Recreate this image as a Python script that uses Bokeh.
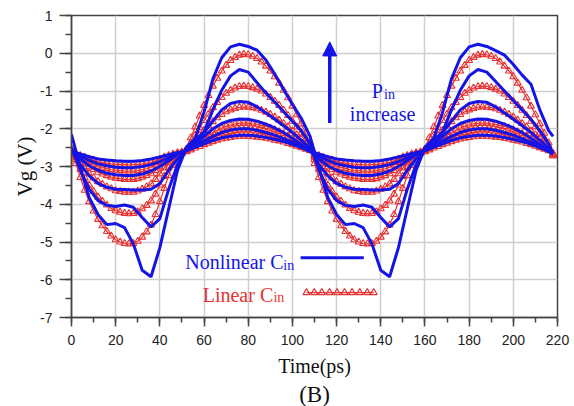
from bokeh.plotting import figure
from bokeh.models import Range1d, SingleIntervalTicker, Label, Arrow, NormalHead, Title, CustomJSTickFormatter
from bokeh.embed import file_html
from bokeh.resources import INLINE

# time axes (ps)
t = list(range(0, 217, 4)) + [218]     # nonlinear (blue) samples
t_r = list(range(0, 217, 2)) + [218]   # linear (red, marked) samples

# Nonlinear C_in (blue), largest Pin first
B1 = [-2.15, -3.03, -3.82, -4.27, -4.54, -4.51, -4.62, -5.05, -5.75, -5.92, -5.15, -4.12, -3.10, -2.50,
      -2.25, -1.56, -0.68, -0.12, 0.17, 0.24, 0.18, 0.08, -0.18, -0.55, -0.96, -1.35, -1.72, -2.20,
      -3.03, -3.82, -4.27, -4.54, -4.51, -4.62, -5.05, -5.75, -5.92, -5.15, -4.12, -3.10, -2.50,
      -2.25, -1.56, -0.68, -0.12, 0.17, 0.24, 0.18, 0.07, -0.05, -0.30, -0.58, -0.82, -1.50, -2.05,
      -2.20]
B2 = [-2.50, -3.10, -3.60, -3.90, -4.03, -4.06, -4.02, -4.08, -4.35, -4.60, -4.38, -3.60, -2.95, -2.50,
      -2.30, -2.08, -1.50, -0.98, -0.60, -0.43, -0.50, -0.78, -1.05, -1.30, -1.55, -1.80, -2.05, -2.40,
      -3.10, -3.60, -3.90, -4.03, -4.06, -4.02, -4.08, -4.35, -4.60, -4.38, -3.60, -2.95, -2.50,
      -2.30, -2.08, -1.50, -0.98, -0.60, -0.43, -0.50, -0.75, -1.00, -1.25, -1.50, -1.75, -2.05, -2.40,
      -2.66]
B3 = [-2.55, -2.95, -3.25, -3.45, -3.55, -3.60, -3.61, -3.62, -3.62, -3.60, -3.45, -3.10, -2.80, -2.56,
      -2.35, -2.10, -1.80, -1.50, -1.33, -1.28, -1.30, -1.42, -1.58, -1.75, -1.92, -2.10, -2.30, -2.52,
      -2.95, -3.25, -3.45, -3.55, -3.60, -3.61, -3.62, -3.62, -3.60, -3.45, -3.10, -2.80, -2.56,
      -2.35, -2.10, -1.80, -1.50, -1.33, -1.28, -1.30, -1.42, -1.58, -1.75, -1.92, -2.10, -2.30, -2.52,
      -2.66]
B4 = [-2.58, -2.80, -2.98, -3.10, -3.18, -3.22, -3.24, -3.24, -3.20, -3.12, -3.00, -2.85, -2.68, -2.57,
      -2.40, -2.20, -2.00, -1.86, -1.78, -1.74, -1.75, -1.80, -1.88, -1.98, -2.10, -2.25, -2.42, -2.60,
      -2.80, -2.98, -3.10, -3.18, -3.22, -3.24, -3.24, -3.20, -3.12, -3.00, -2.85, -2.68, -2.57,
      -2.40, -2.20, -2.00, -1.86, -1.78, -1.74, -1.75, -1.80, -1.88, -1.98, -2.10, -2.25, -2.42, -2.60,
      -2.67]
B5 = [-2.60, -2.72, -2.84, -2.93, -2.98, -3.02, -3.03, -3.03, -3.00, -2.95, -2.87, -2.77, -2.66, -2.58,
      -2.46, -2.32, -2.20, -2.10, -2.03, -2.00, -2.00, -2.04, -2.10, -2.17, -2.26, -2.36, -2.48, -2.60,
      -2.72, -2.84, -2.93, -2.98, -3.02, -3.03, -3.03, -3.00, -2.95, -2.87, -2.77, -2.66, -2.58,
      -2.46, -2.32, -2.20, -2.10, -2.03, -2.00, -2.00, -2.04, -2.10, -2.17, -2.26, -2.36, -2.48, -2.60,
      -2.67]
B6 = [-2.60, -2.67, -2.74, -2.80, -2.83, -2.85, -2.86, -2.86, -2.84, -2.80, -2.75, -2.69, -2.63, -2.58,
      -2.49, -2.40, -2.31, -2.24, -2.20, -2.17, -2.17, -2.19, -2.23, -2.28, -2.34, -2.41, -2.50, -2.60,
      -2.67, -2.74, -2.80, -2.83, -2.85, -2.86, -2.86, -2.84, -2.80, -2.75, -2.69, -2.63, -2.58,
      -2.49, -2.40, -2.31, -2.24, -2.20, -2.17, -2.17, -2.19, -2.23, -2.28, -2.34, -2.41, -2.50, -2.60,
      -2.67]

# Linear C_in (red), largest Pin first, sampled on t_r
R1 = [-2.54, -2.92, -3.29, -3.63, -3.93, -4.18, -4.40, -4.57, -4.72, -4.84, -4.94, -5.00, -5.04, -5.05,
      -5.04, -4.98, -4.87, -4.73, -4.55, -4.27, -3.93, -3.58, -3.24, -2.97, -2.74, -2.65, -2.54, -2.24,
      -1.95, -1.66, -1.38, -1.12, -0.87, -0.66, -0.47, -0.32, -0.19, -0.11, -0.05, -0.03, -0.04, -0.08,
      -0.14, -0.23, -0.34, -0.47, -0.62, -0.79, -0.98, -1.18, -1.40, -1.63, -1.87, -2.12, -2.37,
      -2.92, -3.29, -3.63, -3.93, -4.18, -4.40, -4.57, -4.72, -4.84, -4.94, -5.00, -5.04, -5.05,
      -5.04, -4.98, -4.87, -4.73, -4.55, -4.27, -3.93, -3.58, -3.24, -2.97, -2.74, -2.65, -2.54, -2.24,
      -1.95, -1.66, -1.38, -1.12, -0.87, -0.66, -0.47, -0.32, -0.19, -0.11, -0.05, -0.03, -0.04, -0.08,
      -0.14, -0.23, -0.34, -0.47, -0.62, -0.79, -0.98, -1.18, -1.40, -1.63, -1.87, -2.12, -2.37,
      -2.72]
R2 = [-2.57, -2.82, -3.07, -3.30, -3.49, -3.66, -3.81, -3.92, -4.02, -4.11, -4.17, -4.21, -4.24, -4.25,
      -4.24, -4.20, -4.12, -4.03, -3.91, -3.73, -3.49, -3.26, -3.03, -2.85, -2.70, -2.64, -2.57, -2.37,
      -2.17, -1.97, -1.78, -1.61, -1.44, -1.30, -1.17, -1.06, -0.98, -0.92, -0.88, -0.87, -0.88, -0.91,
      -0.95, -1.00, -1.08, -1.17, -1.27, -1.38, -1.51, -1.65, -1.80, -1.95, -2.11, -2.28, -2.45,
      -2.82, -3.07, -3.30, -3.49, -3.66, -3.81, -3.92, -4.02, -4.11, -4.17, -4.21, -4.24, -4.25,
      -4.24, -4.20, -4.12, -4.03, -3.91, -3.73, -3.49, -3.26, -3.03, -2.85, -2.70, -2.64, -2.57, -2.37,
      -2.17, -1.97, -1.78, -1.61, -1.44, -1.30, -1.17, -1.06, -0.98, -0.92, -0.88, -0.87, -0.88, -0.91,
      -0.95, -1.00, -1.08, -1.17, -1.27, -1.38, -1.51, -1.65, -1.80, -1.95, -2.11, -2.28, -2.45,
      -2.70]
R3 = [-2.58, -2.75, -2.91, -3.06, -3.19, -3.30, -3.40, -3.47, -3.54, -3.59, -3.64, -3.66, -3.68, -3.68,
      -3.68, -3.65, -3.60, -3.54, -3.46, -3.34, -3.19, -3.04, -2.89, -2.77, -2.67, -2.63, -2.58, -2.45,
      -2.31, -2.18, -2.04, -1.92, -1.81, -1.71, -1.62, -1.55, -1.50, -1.46, -1.43, -1.42, -1.43, -1.44,
      -1.47, -1.51, -1.56, -1.62, -1.69, -1.77, -1.86, -1.95, -2.06, -2.16, -2.27, -2.39, -2.50,
      -2.75, -2.91, -3.06, -3.19, -3.30, -3.40, -3.47, -3.54, -3.59, -3.64, -3.66, -3.68, -3.68,
      -3.68, -3.65, -3.60, -3.54, -3.46, -3.34, -3.19, -3.04, -2.89, -2.77, -2.67, -2.63, -2.58, -2.45,
      -2.31, -2.18, -2.04, -1.92, -1.81, -1.71, -1.62, -1.55, -1.50, -1.46, -1.43, -1.42, -1.43, -1.44,
      -1.47, -1.51, -1.56, -1.62, -1.69, -1.77, -1.86, -1.95, -2.06, -2.16, -2.27, -2.39, -2.50,
      -2.68]
R4 = [-2.60, -2.71, -2.82, -2.92, -3.01, -3.08, -3.15, -3.20, -3.24, -3.28, -3.31, -3.32, -3.34, -3.34,
      -3.34, -3.32, -3.28, -3.24, -3.19, -3.11, -3.01, -2.91, -2.80, -2.72, -2.66, -2.63, -2.60, -2.51,
      -2.42, -2.34, -2.25, -2.17, -2.10, -2.04, -1.98, -1.93, -1.90, -1.87, -1.86, -1.85, -1.85, -1.87,
      -1.88, -1.91, -1.94, -1.98, -2.03, -2.08, -2.13, -2.19, -2.26, -2.33, -2.40, -2.47, -2.55,
      -2.71, -2.82, -2.92, -3.01, -3.08, -3.15, -3.20, -3.24, -3.28, -3.31, -3.32, -3.34, -3.34,
      -3.34, -3.32, -3.28, -3.24, -3.19, -3.11, -3.01, -2.91, -2.80, -2.72, -2.66, -2.63, -2.60, -2.51,
      -2.42, -2.34, -2.25, -2.17, -2.10, -2.04, -1.98, -1.93, -1.90, -1.87, -1.86, -1.85, -1.85, -1.87,
      -1.88, -1.91, -1.94, -1.98, -2.03, -2.08, -2.13, -2.19, -2.26, -2.33, -2.40, -2.47, -2.55,
      -2.67]
R5 = [-2.60, -2.68, -2.76, -2.83, -2.89, -2.94, -2.99, -3.02, -3.05, -3.08, -3.10, -3.11, -3.12, -3.12,
      -3.12, -3.11, -3.08, -3.06, -3.02, -2.96, -2.89, -2.82, -2.75, -2.69, -2.65, -2.63, -2.60, -2.53,
      -2.47, -2.40, -2.34, -2.28, -2.22, -2.18, -2.13, -2.10, -2.07, -2.05, -2.03, -2.03, -2.03, -2.04,
      -2.06, -2.08, -2.10, -2.13, -2.16, -2.20, -2.25, -2.29, -2.34, -2.39, -2.45, -2.50, -2.56,
      -2.68, -2.76, -2.83, -2.89, -2.94, -2.99, -3.02, -3.05, -3.08, -3.10, -3.11, -3.12, -3.12,
      -3.12, -3.11, -3.08, -3.06, -3.02, -2.96, -2.89, -2.82, -2.75, -2.69, -2.65, -2.63, -2.60, -2.53,
      -2.47, -2.40, -2.34, -2.28, -2.22, -2.18, -2.13, -2.10, -2.07, -2.05, -2.03, -2.03, -2.03, -2.04,
      -2.06, -2.08, -2.10, -2.13, -2.16, -2.20, -2.25, -2.29, -2.34, -2.39, -2.45, -2.50, -2.56,
      -2.66]
R6 = [-2.61, -2.66, -2.71, -2.76, -2.80, -2.83, -2.87, -2.89, -2.91, -2.93, -2.94, -2.95, -2.95, -2.96,
      -2.95, -2.95, -2.93, -2.91, -2.89, -2.85, -2.80, -2.75, -2.71, -2.67, -2.64, -2.62, -2.61, -2.56,
      -2.51, -2.47, -2.42, -2.38, -2.34, -2.30, -2.27, -2.25, -2.23, -2.21, -2.20, -2.20, -2.20, -2.21,
      -2.22, -2.23, -2.25, -2.27, -2.30, -2.32, -2.35, -2.39, -2.42, -2.46, -2.50, -2.54, -2.58,
      -2.66, -2.71, -2.76, -2.80, -2.83, -2.87, -2.89, -2.91, -2.93, -2.94, -2.95, -2.95, -2.96,
      -2.95, -2.95, -2.93, -2.91, -2.89, -2.85, -2.80, -2.75, -2.71, -2.67, -2.64, -2.62, -2.61, -2.56,
      -2.51, -2.47, -2.42, -2.38, -2.34, -2.30, -2.27, -2.25, -2.23, -2.21, -2.20, -2.20, -2.20, -2.21,
      -2.22, -2.23, -2.25, -2.27, -2.30, -2.32, -2.35, -2.39, -2.42, -2.46, -2.50, -2.54, -2.58,
      -2.66]

blue_series = [B1, B2, B3, B4, B5, B6]
red_series = [R1, R2, R3, R4, R5, R6]

BLUE = "#1414e6"
RED = "#e83232"
SERIF = "Liberation Serif"
SANS = "Liberation Sans"

p = figure(width=574, height=406, output_backend="svg", toolbar_location=None,
           x_range=Range1d(0, 220), y_range=Range1d(-7, 1),
           min_border_left=71, min_border_right=17, min_border_top=15, min_border_bottom=84,
           background_fill_color="white", border_fill_color="white")

p.outline_line_color = "#444444"
p.outline_line_width = 1.5

p.xaxis.ticker = SingleIntervalTicker(interval=20, num_minor_ticks=2)
p.yaxis.ticker = SingleIntervalTicker(interval=1, num_minor_ticks=2)
p.xgrid.ticker = p.xaxis.ticker
p.ygrid.ticker = p.yaxis.ticker
for g in (p.xgrid, p.ygrid):
    g.grid_line_color = "#cfcfcf"
    g.grid_line_width = 1.5

fmt = CustomJSTickFormatter(code="return tick.toString();")
for ax in (p.xaxis, p.yaxis):
    ax.formatter = fmt
    ax.axis_line_color = "#444444"
    ax.axis_line_width = 1.5
    ax.major_tick_line_color = "#444444"
    ax.minor_tick_line_color = "#444444"
    ax.major_tick_line_width = 1.5
    ax.minor_tick_line_width = 1.5
    ax.major_tick_in = 0
    ax.minor_tick_in = 0
    ax.major_label_text_font = SANS
    ax.major_label_text_font_size = "14px"
    ax.major_label_text_color = "#222222"
    ax.axis_label_text_font = SERIF
    ax.axis_label_text_font_style = "normal"
    ax.axis_label_text_color = "#111111"

p.xaxis.major_tick_out = 9
p.xaxis.minor_tick_out = 5
p.xaxis.major_label_standoff = 8
p.xaxis.axis_label = "Time(ps)"
p.xaxis.axis_label_text_font_size = "20px"
p.xaxis.axis_label_standoff = 7

p.yaxis.major_tick_out = 12
p.yaxis.minor_tick_out = 6
p.yaxis.major_label_standoff = 7
p.yaxis.axis_label = "Vg (V)"
p.yaxis.axis_label_text_font_size = "21px"
p.yaxis.axis_label_standoff = 0

p.add_layout(Title(text="(B)", align="center", text_font=SERIF, text_font_size="23px",
                   text_font_style="normal", text_color="#111111", standoff=0), "below")

for ys in red_series:
    p.line(t_r, ys, line_color=RED, line_width=1.2)
    p.scatter(t_r, ys, marker="triangle", size=7, line_color=RED, fill_color=None, line_width=1.1)

for ys in blue_series:
    p.line(t, ys, line_color=BLUE, line_width=3)

# legend keys (annotation)
LEG_BLUE_X = [103.7, 132.3]
LEG_BLUE_Y = [-5.42, -5.42]
LEG_RED_X = [106.4, 109.9, 113.3, 116.8, 120.2, 123.6, 127.0, 130.5, 133.9, 136.8]
LEG_RED_Y = [-6.34] * len(LEG_RED_X)
p.line(LEG_BLUE_X, LEG_BLUE_Y, line_color=BLUE, line_width=3)
p.line(LEG_RED_X, LEG_RED_Y, line_color=RED, line_width=1.2)
p.scatter(LEG_RED_X, LEG_RED_Y, marker="triangle", size=7, line_color=RED, fill_color=None, line_width=1.2)

p.add_layout(Label(x=51.5, y=-5.54, text="Nonlinear C", text_font=SERIF, text_font_size="20px",
                   text_color=BLUE, text_baseline="alphabetic"))
p.add_layout(Label(x=95.9, y=-5.62, text="in", text_font=SERIF, text_font_size="14px",
                   text_color=BLUE, text_baseline="alphabetic"))
p.add_layout(Label(x=59.4, y=-6.40, text="Linear C", text_font=SERIF, text_font_size="20px",
                   text_color=RED, text_baseline="alphabetic"))
p.add_layout(Label(x=91.4, y=-6.48, text="in", text_font=SERIF, text_font_size="14px",
                   text_color=RED, text_baseline="alphabetic"))

# Pin increase arrow
p.add_layout(Arrow(end=NormalHead(size=14, fill_color=BLUE, line_color=BLUE),
                   x_start=116.9, y_start=-1.85, x_end=116.9, y_end=0.30,
                   line_color=BLUE, line_width=3.5))
p.add_layout(Label(x=135.9, y=-1.01, text="P", text_font=SERIF, text_font_size="20px",
                   text_color=BLUE, text_baseline="alphabetic"))
p.add_layout(Label(x=141.5, y=-1.09, text="in", text_font=SERIF, text_font_size="14px",
                   text_color=BLUE, text_baseline="alphabetic"))
p.add_layout(Label(x=126.0, y=-1.61, text="increase", text_font=SERIF, text_font_size="20px",
                   text_color=BLUE, text_baseline="alphabetic"))

open("out.html", "w").write(file_html(p, INLINE))
